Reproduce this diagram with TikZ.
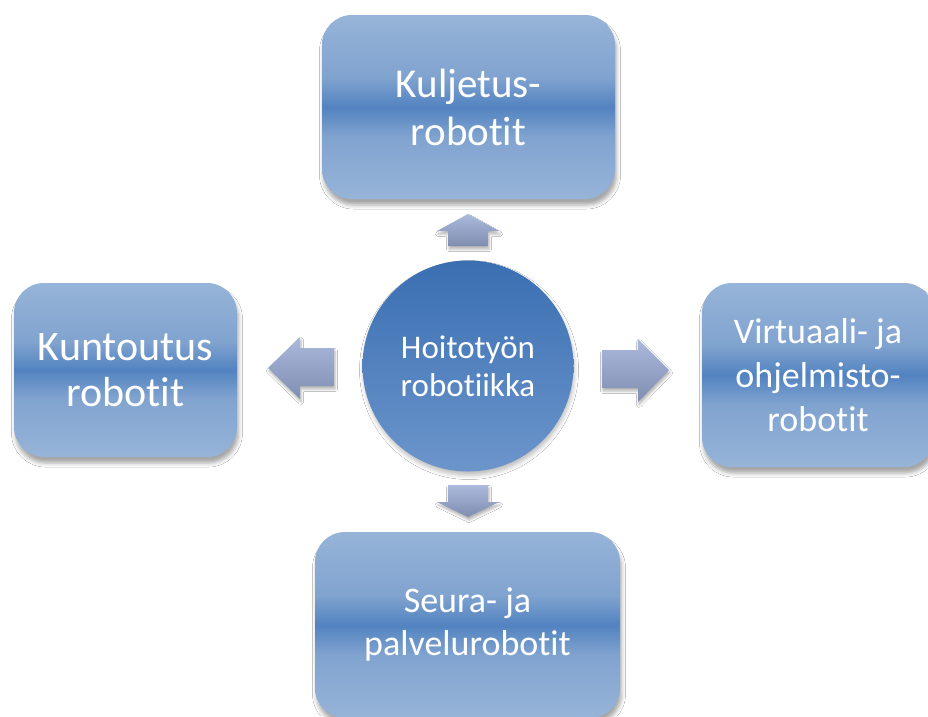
\documentclass[tikz,border=0pt]{standalone}
\usepackage{fontspec}
\setmainfont{Carlito}[Ligatures=NoCommon]
\usetikzlibrary{shadows.blur}
\definecolor{boxlight}{HTML}{97B4D8}
\definecolor{boxmid}{HTML}{80A3CF}
\definecolor{boxdark}{HTML}{5283C0}
\definecolor{circtop}{HTML}{3A6FB2}
\definecolor{circbot}{HTML}{6C95CB}
\definecolor{arrtop}{HTML}{ABBADC}
\definecolor{arrbot}{HTML}{7F8EB0}
\pgfdeclareverticalshading{boxshade}{100bp}{color(0bp)=(boxlight); color(25bp)=(boxlight); color(42bp)=(boxmid); color(50bp)=(boxdark); color(58bp)=(boxmid); color(75bp)=(boxlight); color(100bp)=(boxlight)}
\tikzset{
  boxnode/.style={rectangle, rounded corners=30pt, shading=boxshade, draw=none,
    text=white, align=center, inner sep=0pt,
    blur shadow={shadow xshift=1.5pt, shadow yshift=-6pt, shadow blur radius=4pt, shadow opacity=35}},
  hubnode/.style={circle, minimum size=211pt, top color=circtop, bottom color=circbot, draw=none,
    text=white, align=center, inner sep=0pt,
    blur shadow={shadow xshift=1pt, shadow yshift=-4pt, shadow blur radius=4pt, shadow opacity=25}},
  blockarrow/.style={top color=arrtop, bottom color=arrbot, draw=none,
    blur shadow={shadow xshift=1pt, shadow yshift=-3pt, shadow blur radius=2.5pt, shadow opacity=30}}
}
\begin{document}
\begin{tikzpicture}[x=1pt,y=-1pt]
\useasboundingbox (0,0) rectangle (928,716);
\fill[white] (0,0) rectangle (928,716);
\begin{scope}
\clip (0,0) rectangle (928,716);
\node[boxnode, minimum width=293pt, minimum height=184pt,
  font=\fontsize{41}{48}\selectfont] (kul) at (468.5,107) {Kuljetus-\\robotit};
\node[boxnode, minimum width=223pt, minimum height=174pt,
  font=\fontsize{42}{46}\selectfont] (kun) at (125.5,370) {Kuntoutus\\robotit};
\node[boxnode, minimum width=232pt, minimum height=184pt,
  font=\fontsize{36}{44}\selectfont] (vir) at (818,375) {Virtuaali- ja\\ohjelmisto-\\robotit};
\node[boxnode, minimum width=305pt, minimum height=186pt,
  font=\fontsize{36}{43}\selectfont] (seu) at (467.5,625) {Seura- ja\\palvelurobotit};
\node[hubnode, font=\fontsize{33}{38}\selectfont] (hub) at (468,366) {Hoitotyön\\robotiikka};
% block arrows
\path[blockarrow] (448,246) -- (448,231) -- (437,231) -- (468,214) -- (499,231) -- (488,231) -- (488,246) -- cycle;
\path[blockarrow] (448,485) -- (488,485) -- (488,502) -- (499,502) -- (468,517) -- (437,502) -- (448,502) -- cycle;
\path[blockarrow] (334,348) -- (300,348) -- (300,337) -- (268,368) -- (300,399) -- (300,386) -- (334,386) -- cycle;
\path[blockarrow] (602,350) -- (638,350) -- (638,339) -- (669,370) -- (638,402) -- (638,388) -- (602,388) -- cycle;
\end{scope}
\end{tikzpicture}
\end{document}
